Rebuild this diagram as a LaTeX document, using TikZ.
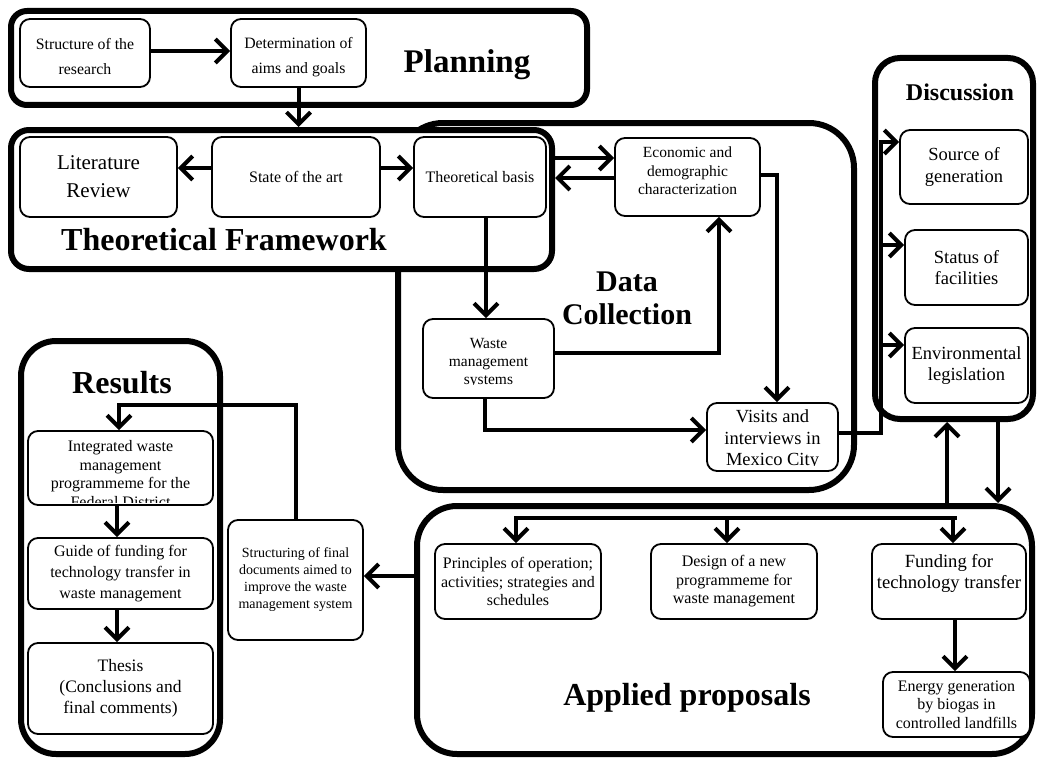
\documentclass[tikz,border=0pt]{standalone}
\usepackage{fontspec}
\setmainfont{Liberation Serif}
\usetikzlibrary{arrows.meta,calc}

\begin{document}
\begin{tikzpicture}[x=1pt,y=-1pt,
  grp/.style={draw, line width=6pt, fill=white, inner sep=0pt, outer sep=3pt},
  box/.style={draw, line width=1.8pt, rounded corners=10pt, fill=white,
              inner sep=0pt, outer sep=0.9pt, align=center},
  lbl/.style={inner sep=0pt, align=center},
  ttl/.style={inner sep=0pt, align=center, font=\bfseries\fontsize{32}{34}\selectfont},
  arr/.style={line width=4pt, -{Straight Barb[length=12pt,width=24pt]}},
  bar/.style={line width=4pt, line cap=rect},
  fA/.style={font=\fontsize{15.8}{25}\selectfont},
  fB/.style={font=\fontsize{16}{18.5}\selectfont},
  fC/.style={font=\fontsize{18.5}{21.5}\selectfont},
  fD/.style={font=\fontsize{16}{21}\selectfont},
  fE/.style={font=\fontsize{14}{17}\selectfont}
]
\useasboundingbox (0,0) rectangle (1037,760);

% ---------- stage frames ----------
\node[grp, rounded corners=45pt, minimum width=456pt, minimum height=367pt] (dc) at (626,306.5) {};
\node[grp, rounded corners=18pt, minimum width=541pt, minimum height=139pt] (tf) at (281.5,199.5) {};
\node[grp, rounded corners=16pt, minimum width=576pt, minimum height=94pt] (plan) at (299,58) {};
\node[grp, rounded corners=25pt, minimum width=158pt, minimum height=361pt] (disc) at (954,238.5) {};
\node[grp, rounded corners=40pt, minimum width=615pt, minimum height=248pt] (app) at (724.5,630) {};
\node[grp, rounded corners=35pt, minimum width=199pt, minimum height=413pt] (res) at (120.5,547.5) {};

% ---------- stage titles ----------
\node[ttl, font=\bfseries\fontsize{33}{35}\selectfont] (plant) at (467,65) {Planning};
\node[ttl] (tft) at (224,240) {Theoretical Framework};
\node[ttl, font=\bfseries\fontsize{30}{33}\selectfont] (dct) at (627,298) {Data\\Collection};
\node[ttl, font=\bfseries\fontsize{24}{26}\selectfont] (disct) at (960,92) {Discussion};
\node[ttl] (rest) at (122,383) {Results};
\node[ttl] (appt) at (687,698) {Applied proposals};

% ---------- planning ----------
\node[box, minimum width=130pt, minimum height=68pt] (s1) at (85,53) {};
\node[lbl, fA] (s1t) at (85,57) {Structure of the\\research};
\node[box, minimum width=135pt, minimum height=68pt] (s2) at (298.5,53) {};
\node[lbl, fA] (s2t) at (298.5,57) {Determination of\\aims and goals};

% ---------- theoretical framework ----------
\node[box, minimum width=157pt, minimum height=80pt, font=\fontsize{21}{28}\selectfont] (lit) at (98.5,177) {Literature\\Review};
\node[box, minimum width=168pt, minimum height=80pt, font=\fontsize{16}{18}\selectfont] (sota) at (296,177) {State of the art};
\node[box, minimum width=132pt, minimum height=80pt, font=\fontsize{16}{18}\selectfont] (tb) at (480,177) {Theoretical basis};

% ---------- data collection ----------
\node[box, minimum width=145pt, minimum height=78pt] (econ) at (687.5,177) {};
\node[lbl, font=\fontsize{15.5}{18.5}\selectfont] (econt) at (687.5,171) {Economic and\\demographic\\characterization};
\node[box, minimum width=131pt, minimum height=79pt] (waste) at (488.5,358.5) {};
\begin{scope}
  \clip (423,320) rectangle (554,384);
  \node[lbl, font=\fontsize{15.5}{18}\selectfont] (wastet) at (488.5,363) {Waste\\management\\systems};
\end{scope}
\node[box, minimum width=131pt, minimum height=68pt] (visits) at (772.5,437) {};
\begin{scope}
  \clip (707,404) rectangle (838,465);
  \node[lbl, fC] (visitst) at (772.5,440) {Visits and\\interviews in\\Mexico City};
\end{scope}

% ---------- discussion ----------
\node[box, minimum width=128pt, minimum height=74pt, fC] (src) at (964,167) {Source of\\generation};
\node[box, minimum width=123pt, minimum height=75pt, fC] (stat) at (966.5,267.5) {Status of\\facilities};
\node[box, minimum width=123pt, minimum height=75pt, fC] (env) at (966.5,365.5) {Environmental\\legislation};

% ---------- results ----------
\node[box, minimum width=185pt, minimum height=74pt] (integ) at (120.5,468) {};
\begin{scope}
  \clip (28,432) rectangle (213,502);
  \node[lbl, fB] (integt) at (120.5,474) {Integrated waste\\management\\programmeme for the\\Federal District};
\end{scope}
\node[box, minimum width=185pt, minimum height=71pt, fD] (guide) at (120.5,573.5) {Guide of funding for\\technology transfer in\\waste management};
\node[box, minimum width=185pt, minimum height=91pt, font=\fontsize{17.5}{21}\selectfont] (thesis) at (120.5,688.5) {Thesis\\(Conclusions and\\final comments)};
\node[box, minimum width=135pt, minimum height=120pt, fE] (struct) at (295.5,580) {Structuring of final\\documents aimed to\\improve the waste\\management system};

% ---------- applied proposals ----------
\node[box, minimum width=166pt, minimum height=75pt, fB] (prin) at (518,581.5) {Principles of operation;\\activities; strategies and\\schedules};
\node[box, minimum width=166pt, minimum height=75pt, fB] (design) at (734,581.5) {Design of a new\\programmeme for\\waste management};
\node[box, minimum width=154pt, minimum height=75pt] (fund) at (949,581.5) {};
\node[lbl, font=\fontsize{18.6}{21}\selectfont] (fundt) at (949,573) {Funding for\\technology transfer};
\node[box, minimum width=147pt, minimum height=65pt, font=\fontsize{16}{18.3}\selectfont] (energy) at (956.5,704.5) {Energy generation\\by biogas in\\controlled landfills};

% ---------- connectors ----------
\coordinate (dtop) at (881,142);
\coordinate (dmid) at (881,245);
\coordinate (dlow) at (881,345);
\coordinate (bl) at (516,518);
\coordinate (br) at (955,518);
\coordinate (rtop) at (119,405);

\draw[arr] (s1.east |- 0,51) -- (s2.west |- 0,51);
\draw[arr] (s2.south) -- (s2.south |- tf.north);

\draw[arr] (sota.west |- 0,168) -- (lit.east |- 0,168);
\draw[arr] (sota.east |- 0,168) -- (tb.west |- 0,168);
\draw[arr] (tf.east |- 0,158) -- (econ.west |- 0,158);
\draw[arr] (econ.west |- 0,178) -- (tf.east |- 0,178);

\draw[arr] (tb.south -| 486,0) -- (waste.north -| 486,0);
\draw[arr] (waste.east |- 0,353) -| (econ.south -| 719,0);
\draw[arr] (econ.east |- 0,175) -| (visits.north -| 777,0);
\draw[arr] (waste.south -| 485,0) |- (visits.west |- 0,430);

\draw[arr] (visits.east |- 0,433) -| (dtop) -- (src.west |- dtop);
\draw[arr] (dmid) -- (stat.west |- dmid);
\draw[arr] (dlow) -- (env.west |- dlow);

\draw[arr] (app.north -| 947,0) -- (disc.south -| 947,0);
\draw[arr] (disc.south -| 998,0) -- (app.north -| 998,0);

\draw[bar] (bl) -- (br);
\draw[arr] (bl) -- (prin.north -| bl);
\draw[arr] (bl -| 727,0) -- (design.north -| 727,0);
\draw[arr] (bl -| 953,0) -- (fund.north -| 953,0);
\draw[arr] (fund.south -| 955,0) -- (energy.north -| 955,0);

\draw[arr] (app.west |- 0,576) -- (struct.east |- 0,576);
\draw[arr] (struct.north -| 296,0) |- (rtop) -- (integ.north -| rtop);
\draw[arr] (integ.south -| 117,0) -- (guide.north -| 117,0);
\draw[arr] (guide.south -| 117,0) -- (thesis.north -| 117,0);

\end{tikzpicture}
\end{document}
